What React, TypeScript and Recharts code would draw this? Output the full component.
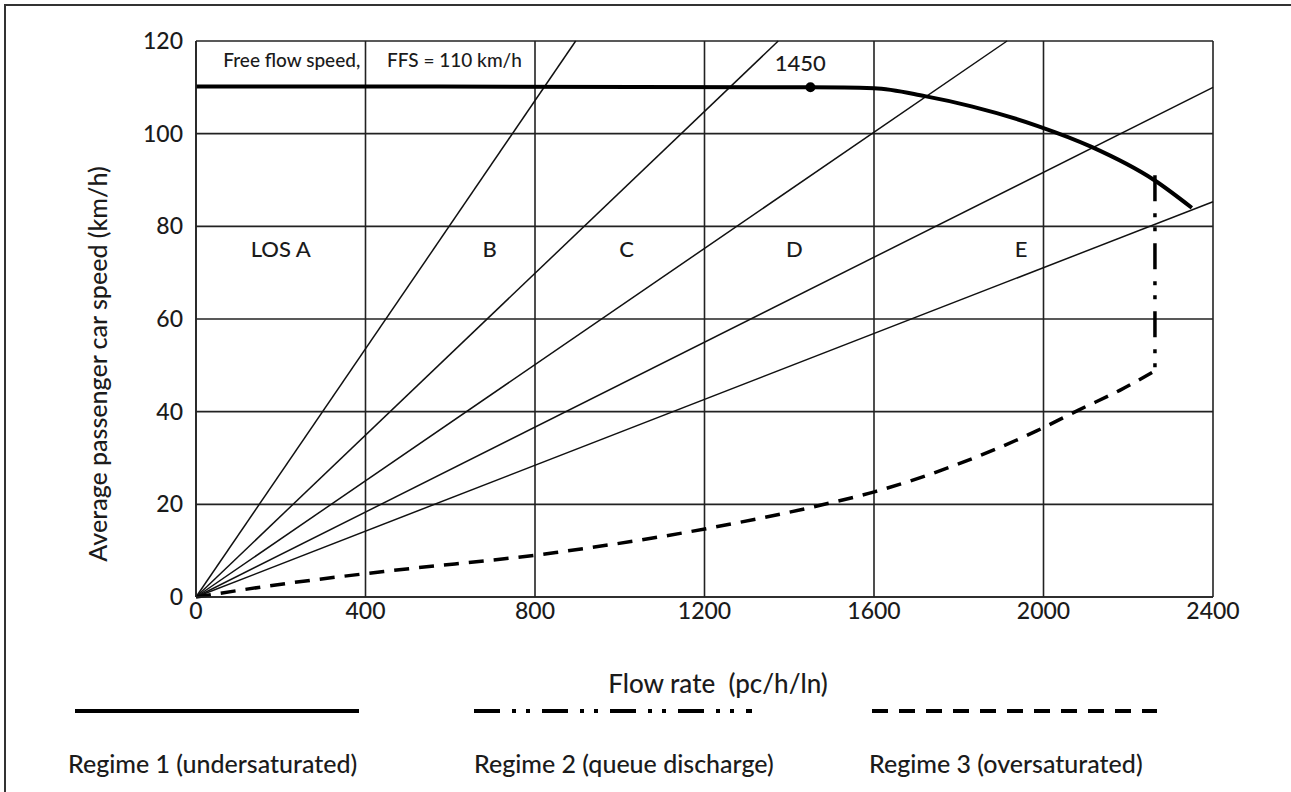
import { LineChart, Line, XAxis, YAxis, CartesianGrid, ReferenceDot } from "recharts"

// flow (pc/h/ln) and speed (km/h)
const flowTicks = [0, 400, 800, 1200, 1600, 2000, 2400]
const speedTicks = [0, 20, 40, 60, 80, 100, 120]

const regime1 = [
  { flow: 0, speed: 110.2 },
  { flow: 1450, speed: 110 },
  { flow: 1600, speed: 109.8 },
  { flow: 1720, speed: 108.1 },
  { flow: 1830, speed: 105.9 },
  { flow: 1985, speed: 101.7 },
  { flow: 2112, speed: 97.2 },
  { flow: 2261, speed: 90 },
  { flow: 2350, speed: 84 },
]

const regime2 = [
  { flow: 2263, speed: 91 },
  { flow: 2263, speed: 48.8 },
]

const regime3 = [
  { flow: 0, speed: 0 },
  { flow: 220, speed: 3 },
  { flow: 443, speed: 5.5 },
  { flow: 849, speed: 9.6 },
  { flow: 1225, speed: 15.1 },
  { flow: 1478, speed: 19.9 },
  { flow: 1601, speed: 22.7 },
  { flow: 1793, speed: 28.5 },
  { flow: 1985, speed: 35.9 },
  { flow: 2084, speed: 40.4 },
  { flow: 2180, speed: 44.6 },
  { flow: 2263, speed: 48.8 },
]

// LOS boundary rays from the origin, end point of each
const losEnds = [
  { flow: 896, speed: 120 },
  { flow: 1374, speed: 120 },
  { flow: 1914, speed: 120 },
  { flow: 2400, speed: 110 },
  { flow: 2400, speed: 85.3 },
]

const capacityPoint = { flow: 1450, speed: 110 }

const losLabels = ["LOS A", "B", "C", "D", "E"]
const losLabelFlow = [200, 693, 1016, 1412, 1947]

const FONT = "Lato, 'Open Sans', sans-serif"
const INK = "#1b1b1b"
const W = 500

export default function App() {
  const rays = losEnds.map((end) => [{ flow: 0, speed: 0 }, end])

  return (
    <div
      style={{
        position: "absolute",
        left: 0,
        top: 0,
        width: 1291,
        height: 792,
        background: "#fff",
        overflow: "hidden",
        fontFamily: FONT,
        fontWeight: W,
        color: INK,
      }}
    >
      {/* frame of the scanned figure, only top + left show */}
      <div
        style={{
          position: "absolute",
          left: 4,
          top: 4,
          width: 1300,
          height: 800,
          borderTop: "2px solid #333",
          borderLeft: "2px solid #333",
        }}
      />

      <LineChart
        width={1291}
        height={792}
        margin={{ top: 41, right: 78, bottom: 165, left: 136 }}
        style={{ position: "absolute", left: 0, top: 0 }}
      >
        <CartesianGrid stroke="#222" strokeWidth={1.6} />
        <XAxis
          type="number"
          dataKey="flow"
          domain={[0, 2400]}
          ticks={flowTicks}
          axisLine={{ stroke: "#222", strokeWidth: 1.6 }}
          tickLine={false}
          tickSize={0}
          tickMargin={6}
          tick={{ fill: INK, fontSize: 23, fontFamily: FONT, fontWeight: W }}
          height={30}
        />
        <YAxis
          type="number"
          dataKey="speed"
          domain={[0, 120]}
          ticks={speedTicks}
          axisLine={{ stroke: "#222", strokeWidth: 1.6 }}
          tickLine={false}
          tickSize={0}
          tickMargin={13}
          tick={{ fill: INK, fontSize: 23, fontFamily: FONT, fontWeight: W }}
          width={60}
        />

        {rays.map((ray, i) => (
          <Line
            key={"los" + i}
            data={ray}
            dataKey="speed"
            type="linear"
            stroke="#111"
            strokeWidth={1.5}
            dot={false}
            isAnimationActive={false}
          />
        ))}

        <Line
          data={regime3}
          dataKey="speed"
          type="monotone"
          stroke="#000"
          strokeWidth={3.5}
          strokeDasharray="15 10"
          dot={false}
          isAnimationActive={false}
        />
        <Line
          data={regime2}
          dataKey="speed"
          type="linear"
          stroke="#000"
          strokeWidth={3.5}
          strokeDasharray="26 12 4 10 4 12"
          dot={false}
          isAnimationActive={false}
        />
        <Line
          data={regime1}
          dataKey="speed"
          type="monotone"
          stroke="#000"
          strokeWidth={4}
          dot={false}
          isAnimationActive={false}
        />

        <ReferenceDot x={capacityPoint.flow} y={capacityPoint.speed} r={5} fill="#000" stroke="none" />
        {/* label sits a little left of the dot in the original */}
        <ReferenceDot
          x={1426}
          y={115.3}
          r={0}
          fill="none"
          stroke="none"
          label={{ value: String(capacityPoint.flow), position: "center", fill: INK, fontSize: 22, fontFamily: FONT, fontWeight: W }}
        />

        <ReferenceDot
          x={226}
          y={115.9}
          r={0}
          fill="none"
          stroke="none"
          label={{ value: "Free flow speed,", position: "center", fill: INK, fontSize: 19, fontFamily: FONT, fontWeight: W }}
        />
        <ReferenceDot
          x={610}
          y={115.9}
          r={0}
          fill="none"
          stroke="none"
          label={{ value: "FFS = 110 km/h", position: "center", fill: INK, fontSize: 19, fontFamily: FONT, fontWeight: W }}
        />

        {losLabels.map((name, i) => (
          <ReferenceDot
            key={name}
            x={losLabelFlow[i]}
            y={75}
            r={0}
            fill="none"
            stroke="none"
            label={{ value: name, position: "center", fill: INK, fontSize: 22, fontFamily: FONT, fontWeight: W }}
          />
        ))}
      </LineChart>

      {/* axis titles */}
      <div
        style={{
          position: "absolute",
          left: 97,
          top: 364,
          transform: "translate(-50%, -50%) rotate(-90deg)",
          whiteSpace: "nowrap",
          fontSize: 25,
        }}
      >
        Average passenger car speed (km/h)
      </div>
      <div
        style={{
          position: "absolute",
          left: 718,
          top: 683,
          transform: "translate(-50%, -50%)",
          whiteSpace: "pre",
          fontSize: 26,
        }}
      >
        {"Flow rate  (pc/h/ln)"}
      </div>

      {/* legend */}
      <svg width={1291} height={40} style={{ position: "absolute", left: 0, top: 691 }}>
        <line x1={75} x2={359} y1={20} y2={20} stroke="#000" strokeWidth={4} />
        <line x1={474} x2={752} y1={20} y2={20} stroke="#000" strokeWidth={4} strokeDasharray="26 12 4 10 4 12" />
        <line x1={872} x2={1157} y1={20} y2={20} stroke="#000" strokeWidth={4} strokeDasharray="16 11" />
      </svg>
      {[
        { text: "Regime 1 (undersaturated)", left: 68 },
        { text: "Regime 2 (queue discharge)", left: 474 },
        { text: "Regime 3 (oversaturated)", left: 869 },
      ].map((l) => (
        <div
          key={l.text}
          style={{ position: "absolute", left: l.left, top: 747, fontSize: 25, whiteSpace: "nowrap", lineHeight: "32px" }}
        >
          {l.text}
        </div>
      ))}
    </div>
  )
}
